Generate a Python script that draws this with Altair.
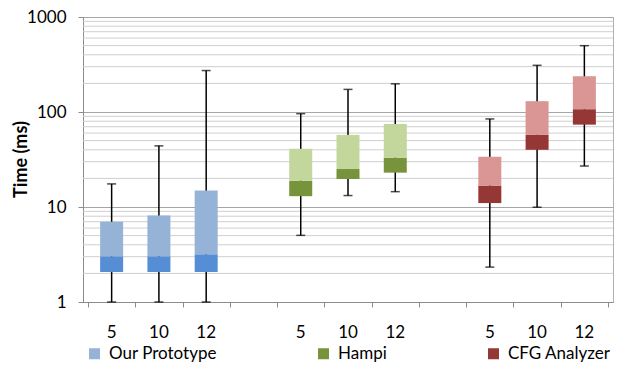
import altair as alt
import pandas as pd

series = ["Our Prototype", "Hampi", "CFG Analyzer"]
sizes = ["5", "10", "12"]
slots = [[0, 1, 2], [4, 5, 6], [8, 9, 10]]

proto_min = [1.0, 1.0, 1.0]
proto_q1 = [2.07, 2.07, 2.07]
proto_med = [3.03, 3.03, 3.18]
proto_q3 = [7.0, 8.15, 14.9]
proto_max = [17.5, 44, 273]

hampi_min = [5.03, 13.2, 14.5]
hampi_q1 = [13.0, 19.7, 23.0]
hampi_med = [18.9, 25.1, 33.0]
hampi_q3 = [41.0, 57.4, 74.8]
hampi_max = [96, 173, 198]

cfg_min = [2.33, 9.95, 27.0]
cfg_q1 = [11.0, 40.0, 73.6]
cfg_med = [16.8, 57.4, 107]
cfg_q3 = [33.8, 130, 238]
cfg_max = [84.5, 310, 499]

y_major = [1, 10, 100, 1000]
y_minor = [2, 3, 4, 5, 6, 7, 8, 9, 20, 30, 40, 50, 60, 70, 80, 90,
           200, 300, 400, 500, 600, 700, 800, 900]
x_bounds = list(range(12))

light = ["#95B3D7", "#C3D69B", "#D99694"]
dark = ["#558ED5", "#77933C", "#953735"]
legend_colors = ["#95B3D7", "#77933C", "#953735"]

stats = [
    (proto_min, proto_q1, proto_med, proto_q3, proto_max),
    (hampi_min, hampi_q1, hampi_med, hampi_q3, hampi_max),
    (cfg_min, cfg_q1, cfg_med, cfg_q3, cfg_max),
]
rows = []
for si, s in enumerate(series):
    mn, q1, md, q3, mx = stats[si]
    for k, sz in enumerate(sizes):
        rows.append(dict(series=s, size=sz, pos=slots[si][k] + 0.5,
                         mn=mn[k], q1=q1[k], med=md[k], q3=q3[k], mx=mx[k],
                         lo=s + " lo", hi=s + " hi"))
df = pd.DataFrame(rows)
minor_df = pd.DataFrame({"v": y_minor})

FONT = "Lato"
GRAY = "#8c8c8c"
FS = 17

xs = alt.X("pos:Q", scale=alt.Scale(domain=[0, 11], nice=False, zero=False),
           axis=alt.Axis(values=x_bounds, labels=False, title=None, grid=False,
                         tickSize=5, tickColor=GRAY, domainColor=GRAY,
                         tickWidth=1, domainWidth=1))
yscale = alt.Scale(type="log", domain=[1, 1000], nice=False)
yaxis = alt.Axis(values=y_major, title="Time (ms)", grid=True, gridColor="#a6a6a6",
                 gridWidth=1, tickSize=5, tickColor=GRAY, domainColor=GRAY,
                 labelFont=FONT, labelFontSize=FS, labelColor="#000",
                 labelPadding=12, titleFont=FONT, titleFontSize=18,
                 titleFontWeight="bold", titleColor="#000", titleX=-62,
                 titleY=142, titleAlign="center", titleBaseline="middle",
                 titleAngle=-90, format="d")

base = alt.Chart(df)

minor = alt.Chart(minor_df).mark_rule(color="#cfcfcf", strokeWidth=1).encode(
    y=alt.Y("v:Q", scale=yscale, axis=yaxis))

whisk = base.mark_rule(color="black", strokeWidth=1.5).encode(
    x=xs, y=alt.Y("mn:Q", scale=yscale, axis=yaxis), y2="mx:Q")
cap_top = base.mark_tick(orient="horizontal", size=9, thickness=1.5, color="black").encode(
    x=xs, y=alt.Y("mx:Q", scale=yscale, axis=yaxis))
cap_bot = base.mark_tick(orient="horizontal", size=9, thickness=1.5, color="black").encode(
    x=xs, y=alt.Y("mn:Q", scale=yscale, axis=yaxis))

lo_dom = [s + " lo" for s in series]
hi_dom = [s + " hi" for s in series]
box_lo = base.mark_bar(size=23).encode(
    x=xs, y=alt.Y("q1:Q", scale=yscale, axis=yaxis), y2="med:Q",
    color=alt.Color("lo:N", scale=alt.Scale(domain=lo_dom, range=dark), legend=None))
box_hi = base.mark_bar(size=23).encode(
    x=xs, y=alt.Y("med:Q", scale=yscale, axis=yaxis), y2="q3:Q",
    color=alt.Color("hi:N", scale=alt.Scale(domain=hi_dom, range=light), legend=None))

legend_layer = base.mark_square(opacity=0, size=1).encode(
    x=xs, y=alt.Y("med:Q", scale=yscale, axis=yaxis),
    color=alt.Color("series:N", scale=alt.Scale(domain=series, range=legend_colors),
                    legend=alt.Legend(title=None, orient="none", legendX=3, legendY=328,
                                      direction="horizontal", symbolType="square",
                                      symbolSize=121, symbolOpacity=1, symbolStrokeWidth=0,
                                      labelFont=FONT, labelFontSize=FS, labelColor="#000",
                                      labelOffset=6, columnPadding=98, padding=0)))

labels = base.mark_text(font=FONT, fontSize=FS, color="#000", baseline="middle").encode(
    x=xs, y=alt.value(316), text="size:N")

chart = alt.layer(minor, whisk, cap_top, cap_bot, box_lo, box_hi, legend_layer, labels).resolve_scale(
    color="independent"
).properties(
    width=530, height=285,
    padding={"left": 75, "top": 9, "right": 1, "bottom": 61},
    autosize=alt.AutoSizeParams(type="none"),
).configure_view(stroke="#b0b0b0", strokeWidth=1)

chart.save("out.html", embed_options={"renderer": "svg", "actions": False})
